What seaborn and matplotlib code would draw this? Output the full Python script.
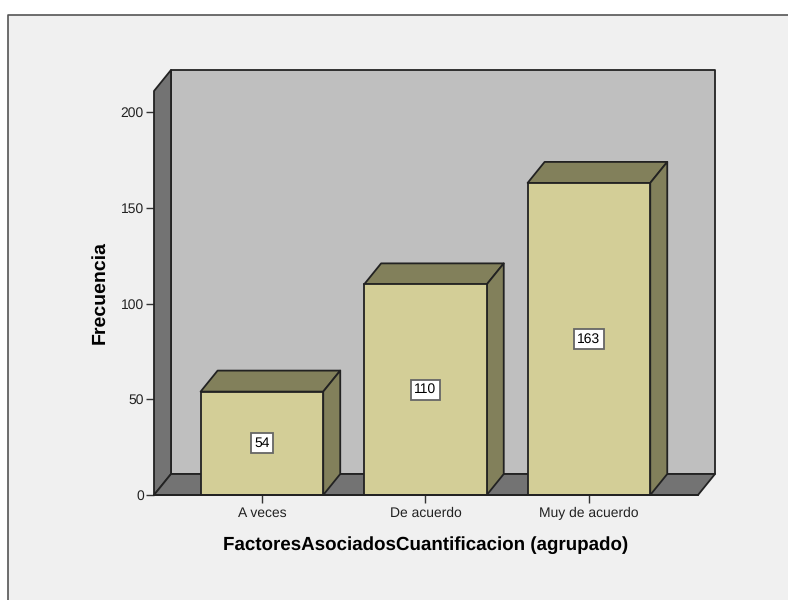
import matplotlib
matplotlib.use("Agg")
import matplotlib.pyplot as plt
import seaborn as sns
import pandas as pd
from matplotlib.patches import Polygon, Rectangle
from matplotlib.transforms import IdentityTransform

categorias = ["A veces", "De acuerdo", "Muy de acuerdo"]
frecuencias = [54, 110, 163]
ticks_y = [0, 50, 100, 150, 200]

W, H = 788, 600
DX, DY = 17, 21  # profundidad del efecto 3D en pixeles

COL_PANEL = "#f0f0f0"
COL_PARED = "#bfbfbf"
COL_LADO = "#737373"
COL_BARRA = "#d3ce97"
COL_SOMBRA = "#82805b"
COL_LINEA = "#222222"

sns.set_theme(style="white")
plt.rcParams["font.family"] = ["Liberation Sans", "DejaVu Sans"]
plt.rcParams["text.hinting"] = "none"

fig = plt.figure(figsize=(W / 100, H / 100), dpi=100, facecolor="white")

# panel gris con borde arriba e izquierda (por debajo de los ejes)
fig.add_artist(Rectangle((8 / W, 0), 1 - 8 / W, 1 - 15 / H, transform=fig.transFigure,
                         facecolor=COL_PANEL, edgecolor="none", zorder=-2))
fig.add_artist(plt.Line2D([7.5 / W, 7.5 / W, 1], [0, 1 - 15 / H, 1 - 15 / H],
                          transform=fig.transFigure, color="#555555", lw=1.2, zorder=-1))

ax = fig.add_axes([154 / W, 1 - 495 / H, (698 - 154) / W, (495 - 91) / H])
ax.patch.set_visible(False)

df = pd.DataFrame({"categoria": categorias, "frecuencia": frecuencias})
sns.barplot(data=df, x="categoria", y="frecuencia", color=COL_BARRA, saturation=1,
            width=0.75, edgecolor=COL_LINEA, linewidth=1.3, ax=ax, zorder=3)

ax.set_xlim(-0.66, 2.667)
ax.set_ylim(0, 211)
fig.canvas.draw()


def poligono(puntos, color, z):
    ax.add_patch(Polygon(puntos, closed=True, facecolor=color, edgecolor=COL_LINEA,
                         linewidth=1.3, joinstyle="round", transform=IdentityTransform(),
                         clip_on=False, zorder=z))


# caras superior y lateral de cada barra (antes de anadir mas patches)
caras = []
for barra in list(ax.patches):
    (bx0, by0), (bx1, by1) = ax.transData.transform(
        [(barra.get_x(), 0), (barra.get_x() + barra.get_width(), barra.get_height())])
    caras.append([(bx0, by1), (bx1, by1), (bx1 + DX, by1 + DY), (bx0 + DX, by1 + DY)])
    caras.append([(bx1, by0), (bx1 + DX, by0 + DY), (bx1 + DX, by1 + DY), (bx1, by1)])
for cara in caras:
    poligono(cara, COL_SOMBRA, 2)

# paredes del fondo, en pixeles a partir de los limites de los ejes
(x0, y0), (x1, y1) = ax.transData.transform([(ax.get_xlim()[0], 0), (ax.get_xlim()[1], ax.get_ylim()[1])])
poligono([(x0 + DX, y0 + DY), (x1 + DX, y0 + DY), (x1 + DX, y1 + DY), (x0 + DX, y1 + DY)], COL_PARED, 0.5)
poligono([(x0, y0), (x0 + DX, y0 + DY), (x0 + DX, y1 + DY), (x0, y1)], COL_LADO, 0.6)
poligono([(x0, y0), (x1, y0), (x1 + DX, y0 + DY), (x0 + DX, y0 + DY)], COL_LADO, 0.6)

# etiquetas de valor en el centro de la barra
for i, v in enumerate(frecuencias):
    ax.text(i, v / 2, str(v), ha="center", va="center", fontsize=10, color="black", zorder=5,
            bbox=dict(boxstyle="square,pad=0.25", facecolor="white", edgecolor="#666666", linewidth=1.3))

ax.set_yticks(ticks_y)
ax.tick_params(axis="both", length=5.8, width=1, color="#333333", labelsize=10,
               labelcolor="#222222", left=True, bottom=True)
ax.tick_params(axis="y", pad=1.5)
ax.tick_params(axis="x", pad=10)
for etiqueta in ax.get_xticklabels():
    etiqueta.set_verticalalignment("baseline")
ax.set_xlabel("FactoresAsociadosCuantificacion (agrupado)", fontsize=13.5, fontweight="bold",
              color="black")
ax.set_ylabel("Frecuencia", fontsize=14, fontweight="bold", color="black")
ax.xaxis.set_label_coords((425.5 - 154) / (698 - 154), -(536 - 495) / (495 - 91))
ax.yaxis.set_label_coords(-(154 - 108.5) / (698 - 154), (495 - 292.5) / (495 - 91))

for lado in ["top", "right", "left"]:
    ax.spines[lado].set_visible(False)
ax.spines["bottom"].set_color(COL_LINEA)
ax.spines["bottom"].set_linewidth(1.3)
ax.spines["bottom"].set_zorder(4)

fig.savefig("out.png", dpi=100, facecolor=fig.get_facecolor())
